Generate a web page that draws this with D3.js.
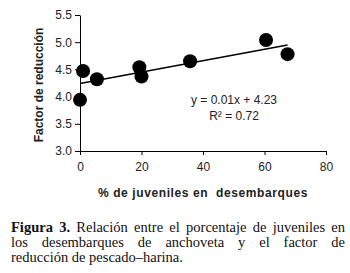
<!DOCTYPE html>
<html>
<head>
<meta charset="utf-8">
<script src="https://cdn.jsdelivr.net/npm/d3@7"></script>
<style>
  body { margin: 0; background: #fff; }
  .wrap { position: relative; width: 350px; height: 273px; overflow: hidden; }
  .caption { position: absolute; left: 11px; top: 220px; width: 334px;
             font-family: "Liberation Serif", "DejaVu Serif", serif; font-size: 14.5px;
             line-height: 15px; color: #111; }
  .caption div { text-align: justify; text-align-last: justify; white-space: nowrap; }
  .caption div.last { text-align-last: left; }
</style>
</head>
<body>
<div class="wrap js-container">
  <div class="caption">
    <div><b>Figura 3.</b> Relación entre el porcentaje de juveniles en</div>
    <div style="white-space: normal;">los desembarques de anchoveta y el factor de</div>
    <div class="last">reducción de pescado–harina.</div>
  </div>
</div>
<script>
;(function() {
  'use strict';

  // Puntos
  var pctJuveniles = [0, 1, 5.5, 19.3, 20, 35.8, 60.5, 67.5];
  var factorReduccion = [3.94, 4.47, 4.32, 4.54, 4.37, 4.65, 5.04, 4.78];

  // Extremos de la recta de tendencia
  var trendX = [0, 67.5];
  var trendY = [4.24, 4.95];

  var xTicks = [0, 20, 40, 60, 80];
  var yTicks = [3.0, 3.5, 4.0, 4.5, 5.0, 5.5];

  var equationLines = ['y = 0.01x + 4.23', 'R² = 0.72'];

  var container = d3.select('.js-container');

  var svg = container.append('svg')
      .attr('width', 350)
      .attr('height', 215)
      .style('position', 'absolute')
      .style('left', 0)
      .style('top', 0);

  var x = d3.scaleLinear().domain([0, 80]).range([80, 326]);
  var y = d3.scaleLinear().domain([3.0, 5.5]).range([151, 15]);

  var font = 'Arial, "Liberation Sans", sans-serif';

  // Ejes
  var yAxis = svg.append('g')
      .attr('transform', 'translate(' + x(0) + ',0)')
      .call(d3.axisLeft(y).tickValues(yTicks).tickFormat(d3.format('.1f'))
              .tickSize(5).tickSizeOuter(0));

  var xAxis = svg.append('g')
      .attr('transform', 'translate(0,' + y(3.0) + ')')
      .call(d3.axisBottom(x).tickValues(xTicks).tickSize(4).tickSizeOuter(0));

  [yAxis, xAxis].forEach(function(ax) {
    ax.select('.domain').attr('stroke', '#000').attr('stroke-width', 1);
    ax.selectAll('.tick line').attr('stroke', '#000');
    ax.selectAll('.tick text')
        .attr('fill', '#222')
        .style('font-family', font)
        .style('font-size', '12px');
  });
  yAxis.selectAll('.tick text').attr('x', -8);
  xAxis.selectAll('.tick text').attr('y', 11);

  // Recta de tendencia
  svg.append('line')
      .attr('x1', x(trendX[0]))
      .attr('y1', y(trendY[0]))
      .attr('x2', x(trendX[1]))
      .attr('y2', y(trendY[1]))
      .attr('stroke', '#000')
      .attr('stroke-width', 1.6);

  // Puntos
  svg.selectAll('circle.pt')
      .data(pctJuveniles)
      .enter().append('circle')
      .classed('pt', true)
      .attr('cx', function(d) { return x(d); })
      .attr('cy', function(d, i) { return y(factorReduccion[i]); })
      .attr('r', 7)
      .attr('fill', '#000');

  // Ecuación
  svg.selectAll('text.eq')
      .data(equationLines)
      .enter().append('text')
      .classed('eq', true)
      .attr('x', 234)
      .attr('y', function(d, i) { return 104 + i * 16; })
      .attr('text-anchor', 'middle')
      .attr('fill', '#222')
      .style('font-family', font)
      .style('font-size', '12px')
      .text(function(d) { return d; });

  // Títulos de ejes
  svg.append('text')
      .attr('transform', 'translate(43,85) rotate(-90)')
      .attr('text-anchor', 'middle')
      .attr('fill', '#222')
      .style('font-family', font)
      .style('font-size', '12px')
      .style('font-weight', 'bold')
      .text('Factor de reducción');

  svg.append('text')
      .attr('x', 203)
      .attr('y', 197)
      .attr('text-anchor', 'middle')
      .attr('fill', '#222')
      .style('font-family', font)
      .style('font-size', '12px')
      .style('font-weight', 'bold')
      .style('letter-spacing', '0.6px')
      .style('white-space', 'pre')
      .text('% de juveniles en  desembarques');

}());
</script>
</body>
</html>
